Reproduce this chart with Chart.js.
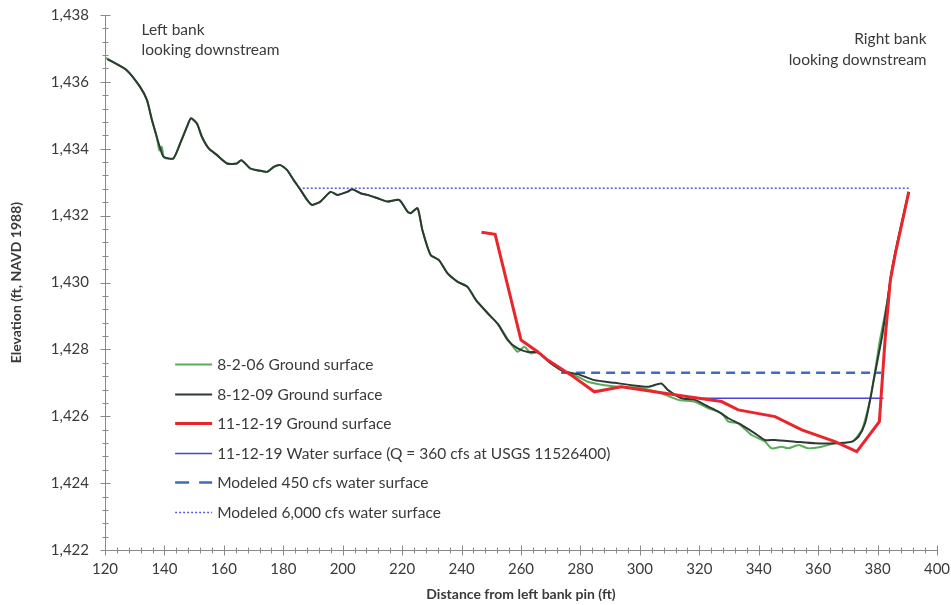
<!DOCTYPE html>
<html>
<head>
<meta charset="utf-8">
<script src="https://cdn.jsdelivr.net/npm/chart.js@4.4.1/dist/chart.umd.min.js"></script>
<style>
  html, body { margin: 0; padding: 0; background: #ffffff; }
  #wrap { width: 951px; height: 605px; }
</style>
</head>
<body>
<div id="wrap"><canvas id="chart" width="951" height="605"></canvas></div>
<script>
// Cross-section survey: distance from left bank pin (ft) vs elevation (ft, NAVD 1988)

const survey2006X = [120.0, 123.5, 127.3, 131.8, 134.1, 135.8, 137.4, 138.3, 139.1, 139.9, 143.0, 145.3, 147.6, 148.9, 150.9, 152.6, 154.9, 157.7, 161.1, 164.4, 165.9, 168.9, 171.2, 174.6, 176.8, 179.0, 181.3, 183.5, 185.8, 188.0, 189.7, 192.5, 195.9, 198.2, 201.5, 203.2, 206.0, 208.3, 211.7, 215.0, 219.0, 221.8, 222.9, 225.2, 226.8, 229.6, 232.4, 235.3, 238.7, 242.0, 244.8, 248.8, 252.2, 256.1, 258.9, 261.1, 263.4, 265.6, 270.1, 274.6, 276.9, 282.5, 288.1, 293.7, 300.5, 307.2, 312.9, 318.5, 323.0, 327.5, 329.8, 333.1, 337.6, 342.1, 344.4, 347.7, 350.0, 353.4, 356.7, 361.2, 365.7, 371.4, 374.7, 376.4, 378.1, 380.8, 383.2, 384.8, 387.1, 390.5];
const survey2006Y = [1436.73, 1436.55, 1436.35, 1435.85, 1435.46, 1434.86, 1434.36, 1433.95, 1434.06, 1433.74, 1433.71, 1434.16, 1434.66, 1434.91, 1434.76, 1434.36, 1434.01, 1433.81, 1433.56, 1433.56, 1433.66, 1433.41, 1433.36, 1433.31, 1433.46, 1433.51, 1433.36, 1433.06, 1432.77, 1432.47, 1432.32, 1432.42, 1432.71, 1432.62, 1432.71, 1432.79, 1432.67, 1432.62, 1432.52, 1432.42, 1432.47, 1432.12, 1432.07, 1432.22, 1431.57, 1430.82, 1430.67, 1430.27, 1430.02, 1429.87, 1429.48, 1429.08, 1428.76, 1428.23, 1427.93, 1428.08, 1427.88, 1427.91, 1427.58, 1427.33, 1427.28, 1427.03, 1426.93, 1426.88, 1426.84, 1426.69, 1426.49, 1426.43, 1426.24, 1426.09, 1425.84, 1425.79, 1425.44, 1425.24, 1425.04, 1425.09, 1425.04, 1425.14, 1425.04, 1425.09, 1425.19, 1425.24, 1425.59, 1426.09, 1426.78, 1428.28, 1429.38, 1430.37, 1431.37, 1432.71];

const survey2009X = [120.8, 127.3, 131.8, 134.1, 135.8, 137.4, 138.6, 139.7, 143.0, 145.3, 147.6, 148.9, 150.9, 152.6, 154.9, 157.7, 161.1, 164.4, 165.9, 168.9, 171.2, 174.6, 176.8, 179.0, 181.3, 183.5, 185.8, 188.0, 189.7, 192.5, 195.9, 198.2, 201.5, 203.2, 206.0, 208.3, 211.7, 215.0, 219.0, 221.8, 222.9, 225.2, 226.8, 229.6, 232.4, 235.3, 238.7, 242.0, 244.8, 248.8, 252.2, 255.5, 258.9, 262.3, 265.6, 270.1, 274.6, 279.1, 284.7, 291.5, 297.1, 302.8, 307.2, 309.5, 314.0, 318.5, 323.0, 326.4, 329.8, 334.2, 338.7, 342.1, 345.5, 352.2, 359.0, 365.7, 371.4, 373.6, 375.8, 377.5, 378.7, 381.5, 383.2, 384.8, 387.1, 390.5];
const survey2009Y = [1436.68, 1436.35, 1435.85, 1435.46, 1434.86, 1434.36, 1434.01, 1433.76, 1433.71, 1434.16, 1434.66, 1434.91, 1434.76, 1434.36, 1434.01, 1433.81, 1433.56, 1433.56, 1433.66, 1433.41, 1433.36, 1433.31, 1433.46, 1433.51, 1433.36, 1433.06, 1432.77, 1432.47, 1432.32, 1432.42, 1432.71, 1432.62, 1432.71, 1432.79, 1432.67, 1432.62, 1432.52, 1432.42, 1432.47, 1432.12, 1432.07, 1432.22, 1431.57, 1430.82, 1430.67, 1430.27, 1430.02, 1429.87, 1429.48, 1429.08, 1428.76, 1428.28, 1428.03, 1427.92, 1427.91, 1427.58, 1427.33, 1427.26, 1427.08, 1427.00, 1426.93, 1426.88, 1426.98, 1426.78, 1426.54, 1426.49, 1426.29, 1426.14, 1425.94, 1425.74, 1425.49, 1425.29, 1425.29, 1425.24, 1425.19, 1425.19, 1425.24, 1425.39, 1425.79, 1426.49, 1427.08, 1428.38, 1429.38, 1430.37, 1431.37, 1432.71];

const survey2019X = [246.7, 251.3, 260.0, 265.6, 269.0, 276.9, 284.7, 293.8, 305.0, 316.3, 327.5, 333.1, 345.5, 354.5, 365.7, 373.0, 380.6, 382.6, 384.3, 386.0, 388.2, 390.5];
const survey2019Y = [1431.50, 1431.44, 1428.28, 1427.93, 1427.68, 1427.23, 1426.73, 1426.88, 1426.73, 1426.58, 1426.44, 1426.19, 1425.99, 1425.59, 1425.24, 1424.94, 1425.84, 1428.38, 1430.07, 1430.87, 1431.77, 1432.71];

const waterSurface2019X = [321.0, 382.0];
const waterSurface2019Y = [1426.54, 1426.54];

const modeled450X = [273.5, 381.2];
const modeled450Y = [1427.30, 1427.30];

const modeled6000X = [185.2, 390.5];
const modeled6000Y = [1432.82, 1432.82];

const seriesLabels = [
  '8-2-06 Ground surface',
  '8-12-09 Ground surface',
  '11-12-19 Ground surface',
  '11-12-19 Water surface (Q = 360 cfs at USGS 11526400)',
  'Modeled 450 cfs water surface',
  'Modeled 6,000 cfs water surface'
];

const xAxisTitle = 'Distance from left bank pin (ft)';
const yAxisTitle = 'Elevation (ft, NAVD 1988)';
const leftBankNote = ['Left bank', 'looking downstream'];
const rightBankNote = ['Right bank', 'looking downstream'];

const xMin = 120, xMax = 400, xMajorStep = 20, xMinorStep = 4;
const yMin = 1422, yMax = 1438, yMajorStep = 2, yMinorStep = 0.4;

const FONT = 'Lato, "Open Sans", "DejaVu Sans", sans-serif';
const TEXT = '#3a3a3a';
const AXIS = '#8a8a8a';

const toPoints = (xs, ys) => xs.map((x, i) => ({ x, y: ys[i] }));
const withCommas = v => String(v).replace(/\B(?=(\d{3})+(?!\d))/g, ',');

const styles = [
  { color: '#5aab5a', width: 2, dash: [], legendDash: [], order: 2, tension: 0.2 },
  { color: '#2c3a33', width: 2, dash: [], legendDash: [], order: 1, tension: 0.2 },
  { color: '#e8262c', width: 3, dash: [], legendDash: [], order: 0, tension: 0 },
  { color: '#4a40e0', width: 1.5, dash: [], legendDash: [], order: 3, tension: 0 },
  { color: '#3d6cc0', width: 2.5, dash: [9, 6], legendDash: [14, 10], order: 4, tension: 0 },
  { color: '#5b58e6', width: 1.5, dash: [2, 2], legendDash: [2, 2], order: 5, tension: 0 }
];

const seriesData = [
  toPoints(survey2006X, survey2006Y),
  toPoints(survey2009X, survey2009Y),
  toPoints(survey2019X, survey2019Y),
  toPoints(waterSurface2019X, waterSurface2019Y),
  toPoints(modeled450X, modeled450Y),
  toPoints(modeled6000X, modeled6000Y)
];

const datasets = seriesLabels.map((label, i) => ({
  label,
  data: seriesData[i],
  borderColor: styles[i].color,
  borderWidth: styles[i].width,
  borderDash: styles[i].dash,
  legendDash: styles[i].legendDash,
  order: styles[i].order,
  tension: styles[i].tension,
  pointRadius: 0,
  fill: false
}));

// Tick marks that cross each axis line, with minor marks between labels
const crossTicks = {
  id: 'crossTicks',
  afterDraw(chart) {
    const { ctx, scales: { x, y } } = chart;
    const ax = Math.round(x.left) + 0.5;
    const ay = Math.round(y.bottom) + 0.5;
    ctx.save();
    ctx.strokeStyle = AXIS;
    ctx.lineWidth = 1;
    ctx.beginPath();
    const ny = Math.round((yMax - yMin) / yMinorStep);
    const perMajorY = Math.round(yMajorStep / yMinorStep);
    for (let i = 0; i <= ny; i++) {
      const p = Math.round(y.getPixelForValue(yMin + i * yMinorStep)) + 0.5;
      const len = i % perMajorY === 0 ? 5 : 3;
      ctx.moveTo(ax - len, p);
      ctx.lineTo(ax + len, p);
    }
    const nx = Math.round((xMax - xMin) / xMinorStep);
    const perMajorX = Math.round(xMajorStep / xMinorStep);
    for (let i = 0; i <= nx; i++) {
      const p = Math.round(x.getPixelForValue(xMin + i * xMinorStep)) + 0.5;
      const len = i % perMajorX === 0 ? 5 : 3;
      ctx.moveTo(p, ay - len);
      ctx.lineTo(p, ay + len);
    }
    ctx.stroke();
    ctx.restore();
  }
};

// Legend block inside the plot area, lower left
const insetLegend = {
  id: 'insetLegend',
  afterDraw(chart) {
    const { ctx, scales: { x, y } } = chart;
    const x0 = x.getPixelForValue(143.6);
    const sample = 37;
    const top = y.getPixelForValue(1427.56);
    const rowGap = 29.6;
    ctx.save();
    ctx.font = '15.5px ' + FONT;
    ctx.textBaseline = 'middle';
    ctx.textAlign = 'left';
    chart.data.datasets.forEach((ds, i) => {
      const cy = Math.round(top + i * rowGap) + 0.5;
      ctx.strokeStyle = ds.borderColor;
      ctx.lineWidth = ds.borderWidth;
      ctx.setLineDash(ds.legendDash);
      ctx.beginPath();
      ctx.moveTo(x0, cy);
      ctx.lineTo(x0 + sample, cy);
      ctx.stroke();
      ctx.setLineDash([]);
      ctx.fillStyle = TEXT;
      ctx.fillText(ds.label, x0 + sample + 5, cy);
    });
    ctx.restore();
  }
};

// Bank orientation notes in the upper corners
const bankNotes = {
  id: 'bankNotes',
  afterDraw(chart) {
    const { ctx, scales: { x, y } } = chart;
    ctx.save();
    ctx.font = '15.5px ' + FONT;
    ctx.fillStyle = TEXT;
    ctx.textBaseline = 'middle';
    ctx.textAlign = 'left';
    const lx = x.getPixelForValue(132.3);
    const ly = y.getPixelForValue(1437.55);
    leftBankNote.forEach((t, i) => ctx.fillText(t, lx, ly + i * 20));
    ctx.textAlign = 'right';
    const rx = x.getPixelForValue(396.5);
    const ry = y.getPixelForValue(1437.27);
    rightBankNote.forEach((t, i) => ctx.fillText(t, rx, ry + i * 21));
    ctx.restore();
  }
};

new Chart(document.getElementById('chart'), {
  type: 'line',
  data: { datasets },
  plugins: [crossTicks, insetLegend, bankNotes],
  options: {
    responsive: false,
    animation: false,
    devicePixelRatio: 1,
    layout: { padding: { left: 0, right: 14, top: 15, bottom: 0 } },
    plugins: { legend: { display: false }, tooltip: { enabled: false } },
    scales: {
      x: {
        type: 'linear',
        min: xMin,
        max: xMax,
        afterFit(scale) {
          scale.height = 55;
          scale.paddingLeft = 0;
          scale.paddingRight = 0;
        },
        grid: { display: true, drawOnChartArea: false, drawTicks: false },
        border: { display: true, color: AXIS, width: 1 },
        ticks: {
          stepSize: xMajorStep,
          autoSkip: false,
          maxRotation: 0,
          padding: 10,
          color: TEXT,
          font: { family: FONT, size: 15 }
        },
        title: {
          display: true,
          text: xAxisTitle,
          color: TEXT,
          font: { family: FONT, size: 14, weight: 'bold' },
          padding: { top: 0, bottom: 2 }
        }
      },
      y: {
        type: 'linear',
        min: yMin,
        max: yMax,
        afterFit(scale) {
          scale.width = 105;
          scale.paddingTop = 0;
          scale.paddingBottom = 0;
        },
        grid: { display: true, drawOnChartArea: false, drawTicks: false },
        border: { display: true, color: AXIS, width: 1 },
        ticks: {
          stepSize: yMajorStep,
          padding: 16,
          color: TEXT,
          font: { family: FONT, size: 15 },
          callback: v => withCommas(v)
        },
        title: {
          display: true,
          text: yAxisTitle,
          color: TEXT,
          font: { family: FONT, size: 14, weight: 'bold' },
          padding: { top: 8, bottom: 0 }
        }
      }
    }
  }
});
</script>
</body>
</html>
